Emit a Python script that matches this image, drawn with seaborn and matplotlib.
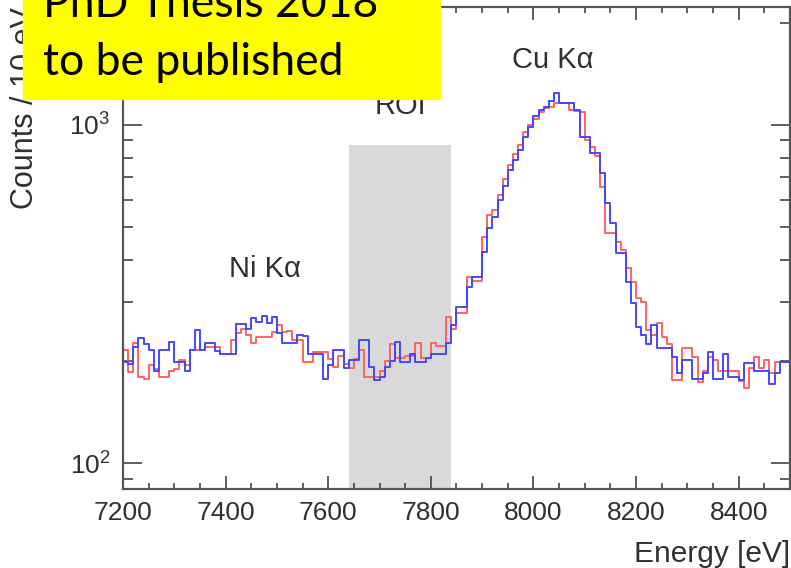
import numpy as np
import pandas as pd
import matplotlib
matplotlib.use('Agg')
import matplotlib.pyplot as plt
import seaborn as sns
from matplotlib.patches import Rectangle
from matplotlib.ticker import MultipleLocator

# 10 eV bins from 7200 to 8500 eV
bin_edges = list(range(7200, 8510, 10))

# counts per bin, red run
counts_red = [
    216, 186, 227, 180, 178, 195, 190, 180, 180, 188,
    190, 202, 195, 216, 216, 216, 220, 220, 220, 211,
    211, 231, 242, 250, 240, 227, 236, 236, 236, 245,
    256, 244, 246, 231, 231, 199, 199, 213, 213, 213,
    204, 192, 208, 197, 191, 204, 216, 180, 180, 180,
    188, 200, 225, 205, 205, 208, 208, 227, 205, 205,
    227, 222, 222, 270, 250, 278, 278, 355, 345, 345,
    467, 541, 560, 620, 690, 760, 820, 870, 950, 1000,
    1040, 1090, 1120, 1130, 1161, 1161, 1161, 1108, 1100, 1090,
    900, 860, 810, 655, 479, 479, 450, 427, 378, 343,
    308, 300, 247, 240, 260, 236, 226, 176, 176, 219,
    219, 206, 174, 188, 206, 202, 188, 188, 188, 188,
    175, 167, 191, 206, 191, 202, 185, 199, 199, 199,
]

# counts per bin, blue run
counts_blue = [
    199, 196, 220, 234, 225, 216, 188, 216, 216, 228,
    199, 199, 188, 216, 247, 216, 227, 227, 215, 211,
    211, 211, 258, 258, 250, 269, 262, 272, 260, 270,
    242, 227, 227, 227, 240, 238, 211, 211, 211, 178,
    195, 216, 216, 191, 202, 202, 231, 231, 192, 176,
    180, 192, 200, 228, 199, 199, 211, 199, 199, 205,
    211, 211, 211, 227, 256, 289, 289, 332, 355, 355,
    420, 496, 535, 600, 660, 736, 790, 843, 920, 986,
    1060, 1108, 1130, 1180, 1245, 1161, 1161, 1161, 1108, 921,
    921, 826, 826, 721, 588, 513, 418, 418, 343, 297,
    252, 240, 226, 256, 219, 219, 219, 206, 185, 202,
    202, 178, 178, 185, 213, 178, 178, 211, 180, 180,
    176, 198, 198, 187, 187, 187, 171, 185, 199, 199,
]

roi_range = [7640, 7840]
roi_top = 875

peak_labels = ['Ni K\u03b1', 'ROI', 'Cu K\u03b1']
peak_pos = [(7476, 375), (7740, 1135), (8037, 1557)]

sns.set_style('ticks')
plt.rcParams['font.family'] = ['Liberation Sans', 'DejaVu Sans']
text_col = '#303030'

df = pd.DataFrame({
    'energy': np.array(bin_edges[:-1]) + 5,
    'red': counts_red,
    'blue': counts_blue,
})

fig = plt.figure(figsize=(7.91, 5.68), dpi=100)
ax = fig.add_axes([0.1555, 0.1391, 0.8432, 0.8486])

# grey region of interest
ax.fill_between(roi_range, 1, roi_top, color='#d9d9d9', lw=0, zorder=0)

sns.histplot(data=df, x='energy', weights='red', bins=bin_edges, element='step',
             fill=False, color='#ff6262', linewidth=1.4, ax=ax, zorder=2)
sns.histplot(data=df, x='energy', weights='blue', bins=bin_edges, element='step',
             fill=False, color='#4646ff', linewidth=1.4, ax=ax, zorder=3)

ax.set_yscale('log')
ax.set_xlim(7200, 8500)
ax.set_ylim(84, 2230)

ax.xaxis.set_major_locator(MultipleLocator(200))
ax.xaxis.set_minor_locator(MultipleLocator(50))
ax.tick_params(which='both', direction='in', top=True, right=True,
               color='#444444', labelsize=19, labelcolor=text_col, pad=9)
ax.tick_params(axis='x', which='major', length=9.5, width=1.2)
ax.tick_params(axis='x', which='minor', length=4.5, width=1.2)
ax.tick_params(axis='y', which='major', length=14, width=1.2)
ax.tick_params(axis='y', which='minor', length=7, width=1.2)
for sp in ax.spines.values():
    sp.set_color('#555555')
    sp.set_linewidth(1.6)

ax.set_xlabel('Energy [eV]', fontsize=21.5, color=text_col, loc='right')
ax.xaxis.set_label_coords(1.0, -0.106)
ax.set_ylabel('Counts / 10 eV', fontsize=22, color=text_col, loc='top')
ax.yaxis.set_label_coords(-0.124, 1.0)

for lab, (xp, yp) in zip(peak_labels, peak_pos):
    ax.text(xp, yp, lab, fontsize=21, color=text_col, ha='center', va='center')

# yellow sticker on top
fig.patches.append(Rectangle((0.029, 0.826), 0.527, 0.2, transform=fig.transFigure,
                             color='#ffff00', zorder=5))
fig.text(0.054, 1 - 17 / 568, 'PhD Thesis 2018', fontsize=32, family='Lato',
         color='black', va='baseline', ha='left', zorder=6)
fig.text(0.054, 1 - 75 / 568, 'to be published', fontsize=32, family='Lato',
         color='black', va='baseline', ha='left', zorder=6)

fig.savefig('out.png', dpi=100)
